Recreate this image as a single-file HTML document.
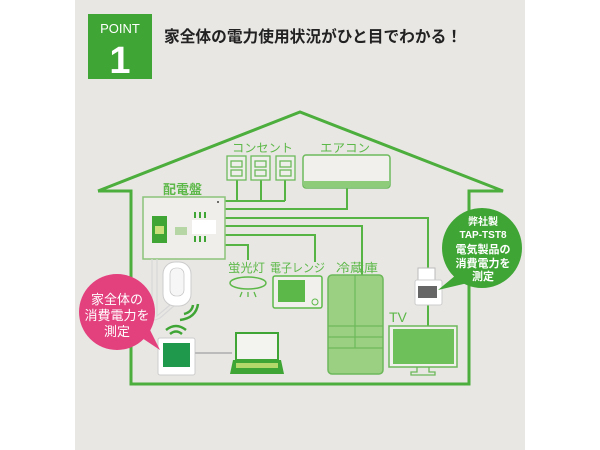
<!DOCTYPE html>
<html><head><meta charset="utf-8"><style>
html,body{margin:0;padding:0;background:#fff;}
svg{display:block;}
text{font-family:"Liberation Sans","Noto Sans CJK JP",sans-serif;}
</style></head><body>
<svg width="600" height="450" viewBox="0 0 600 450" xmlns="http://www.w3.org/2000/svg">
<rect x="0" y="0" width="600" height="450" fill="#fff"/>
<rect x="75" y="0" width="450" height="450" fill="#e9e7e4"/>
<!-- POINT box -->
<rect x="88" y="14" width="64" height="65" fill="#3fa535"/>
<text x="120" y="33" font-size="13" fill="#fff" text-anchor="middle">POINT</text>
<text x="120" y="73" font-size="38" font-weight="bold" fill="#fff" text-anchor="middle">1</text>
<text x="164" y="42" font-size="16" font-weight="bold" fill="#222" textLength="298" lengthAdjust="spacingAndGlyphs">家全体の電力使用状況がひと目でわかる！</text>
<!-- House -->
<polyline points="98,191 300,112 503,191 469,191 469,384 131,384 131,191 98,191" fill="none" stroke="#4cae3c" stroke-width="3" stroke-linejoin="miter"/>
<g fill="none" stroke="#55b444" stroke-width="2">
<polyline points="225,201 285,201"/>
<line x1="237" y1="180" x2="237" y2="201"/><line x1="261" y1="180" x2="261" y2="201"/><line x1="285" y1="180" x2="285" y2="201"/>
<polyline points="225,209 347,209 347,188"/>
<polyline points="225,218 428,218 428,268"/>
<polyline points="225,226 362,226 362,275"/>
<polyline points="225,235 315,235 315,262"/>
<polyline points="225,245 248,245 248,260"/>
<line x1="428" y1="305" x2="428" y2="326"/>
</g>
<!-- labels -->
<g fill="#5cb848" font-size="12">
<text x="232" y="152" textLength="61" lengthAdjust="spacingAndGlyphs">コンセント</text>
<text x="320" y="152" textLength="50" lengthAdjust="spacingAndGlyphs">エアコン</text>
<text x="163" y="194" font-weight="bold" font-size="13">配電盤</text>
<text x="228" y="272" textLength="37" lengthAdjust="spacingAndGlyphs">蛍光灯</text>
<text x="270" y="272" textLength="55" lengthAdjust="spacingAndGlyphs">電子レンジ</text>
<text x="336" y="272" textLength="42" lengthAdjust="spacingAndGlyphs">冷蔵庫</text>
<text x="389" y="322" font-size="14">TV</text>
</g>
<!-- outlets -->
<g fill="#eeeeea" stroke="#6cba5c" stroke-width="1.3">
<rect x="227" y="156" width="19" height="24"/>
<rect x="251" y="156" width="19" height="24"/>
<rect x="276" y="156" width="19" height="24"/>
<rect x="231" y="161" width="11" height="6"/><rect x="231" y="170" width="11" height="6"/>
<rect x="255" y="161" width="11" height="6"/><rect x="255" y="170" width="11" height="6"/>
<rect x="280" y="161" width="11" height="6"/><rect x="280" y="170" width="11" height="6"/>
</g>
<!-- AC -->
<rect x="303" y="155" width="87" height="33" rx="3" fill="#f1f0ec" stroke="#6cba5c" stroke-width="1.5"/>
<rect x="304" y="181" width="85" height="6" fill="#8fcc7a"/>
<!-- panel -->
<rect x="143" y="197" width="82" height="62" fill="#efeeea" stroke="#8ac47a" stroke-width="1.5"/>
<rect x="152" y="216" width="15" height="27" fill="#3fa535"/>
<rect x="155" y="226" width="9" height="8" fill="#c9e07a"/>
<rect x="175" y="227" width="12" height="8" fill="#b7d6a5"/>
<rect x="192" y="220" width="24" height="14" fill="#fff"/>
<g fill="#3fa535"><rect x="194" y="212" width="2" height="6"/><rect x="199" y="212" width="2" height="6"/><rect x="204" y="212" width="2" height="6"/><rect x="194" y="236" width="2" height="6"/><rect x="199" y="236" width="2" height="6"/><rect x="204" y="236" width="2" height="6"/></g>
<circle cx="218" cy="202" r="1" fill="#444"/>
<!-- smart plug wires -->
<g fill="none" stroke="#d8d8d8" stroke-width="1.2"><path d="M152,259 V318 Q152,322 160,318 L175,305"/><path d="M157,259 V316 L170,305"/></g>
<rect x="163" y="262" width="28" height="44" rx="12" fill="#fff" stroke="#ccc"/>
<rect x="170" y="268" width="14" height="28" rx="6" fill="#f6f6f6" stroke="#bbb" stroke-width="0.6"/>
<g fill="none" stroke="#3fa535" stroke-width="2.5"><path d="M184,314 Q192,312 193,305"/><path d="M180,320 Q196,318 198,304"/></g>
<!-- monitor -->
<g fill="none" stroke="#3fa535" stroke-width="2.5"><path d="M170,334 Q176,329 182,334"/><path d="M166,330 Q176,322 186,330"/></g>
<rect x="158" y="338" width="37" height="37" rx="2" fill="#fff" stroke="#ccc"/>
<rect x="163" y="343" width="27" height="24" fill="#1f9a4c"/>
<line x1="195" y1="353" x2="232" y2="353" stroke="#bbb" stroke-width="2"/>
<!-- laptop -->
<rect x="236" y="333" width="42" height="27" fill="#f3f3ef" stroke="#3fa535" stroke-width="2"/>
<polygon points="233,360 281,360 284,374 230,374" fill="#3fa535"/>
<rect x="236" y="363" width="42" height="5" fill="#b5d86a"/>
<!-- lamp -->
<ellipse cx="248" cy="283" rx="18" ry="6" fill="none" stroke="#5cb848" stroke-width="1.5"/>
<g stroke="#5cb848" stroke-width="1.3"><line x1="242" y1="292" x2="240" y2="297"/><line x1="248" y1="292" x2="248" y2="297"/><line x1="254" y1="292" x2="256" y2="297"/></g>
<!-- microwave -->
<rect x="273" y="276" width="49" height="32" rx="2" fill="#f1f0ec" stroke="#5cb848" stroke-width="1.5"/>
<rect x="278" y="280" width="27" height="22" fill="#5cb848"/>
<circle cx="315" cy="302" r="3" fill="none" stroke="#5cb848"/>
<!-- fridge -->
<rect x="328" y="275" width="55" height="99" rx="4" fill="#9bd082" stroke="#6cb85a" stroke-width="1.5"/>
<g stroke="#6cb85a" stroke-width="1.2"><line x1="355" y1="275" x2="355" y2="348"/><line x1="328" y1="326" x2="383" y2="326"/><line x1="328" y1="348" x2="383" y2="348"/><line x1="328" y1="337" x2="383" y2="337"/></g>
<!-- tap meter -->
<rect x="418" y="268" width="17" height="12" fill="#fff" stroke="#bbb"/>
<rect x="415" y="280" width="27" height="25" rx="2" fill="#fff" stroke="#ccc"/>
<rect x="418" y="286" width="19" height="12" fill="#666"/>
<!-- TV -->
<rect x="389" y="326" width="68" height="41" fill="#f1f0ec" stroke="#6cb85a" stroke-width="1.5"/>
<rect x="393" y="329" width="61" height="35" fill="#6ec05a"/>
<polyline points="417,367 417,372 411,372 411,375 435,375 435,372 429,372 429,367" fill="none" stroke="#6cb85a" stroke-width="1.3"/>
<!-- green bubble -->
<polygon points="462,270 472,282 438,290" fill="#3fa535"/>
<circle cx="482" cy="248" r="40" fill="#3fa535"/>
<g fill="#fff" font-size="10" font-weight="bold" text-anchor="middle">
<text x="483" y="225">弊社製</text>
<text x="483" y="238">TAP-TST8</text>
<text x="483" y="253" font-size="11">電気製品の</text>
<text x="483" y="267" font-size="11">消費電力を</text>
<text x="483" y="280" font-size="11">測定</text>
</g>
<!-- pink bubble -->
<polygon points="130,330 145,320 160,350" fill="#e3407e"/>
<circle cx="117" cy="312" r="38" fill="#e3407e"/>
<g fill="#fff" font-size="13" text-anchor="middle">
<text x="117" y="304">家全体の</text>
<text x="117" y="320">消費電力を</text>
<text x="117" y="336">測定</text>
</g>
</svg>
</body></html>
